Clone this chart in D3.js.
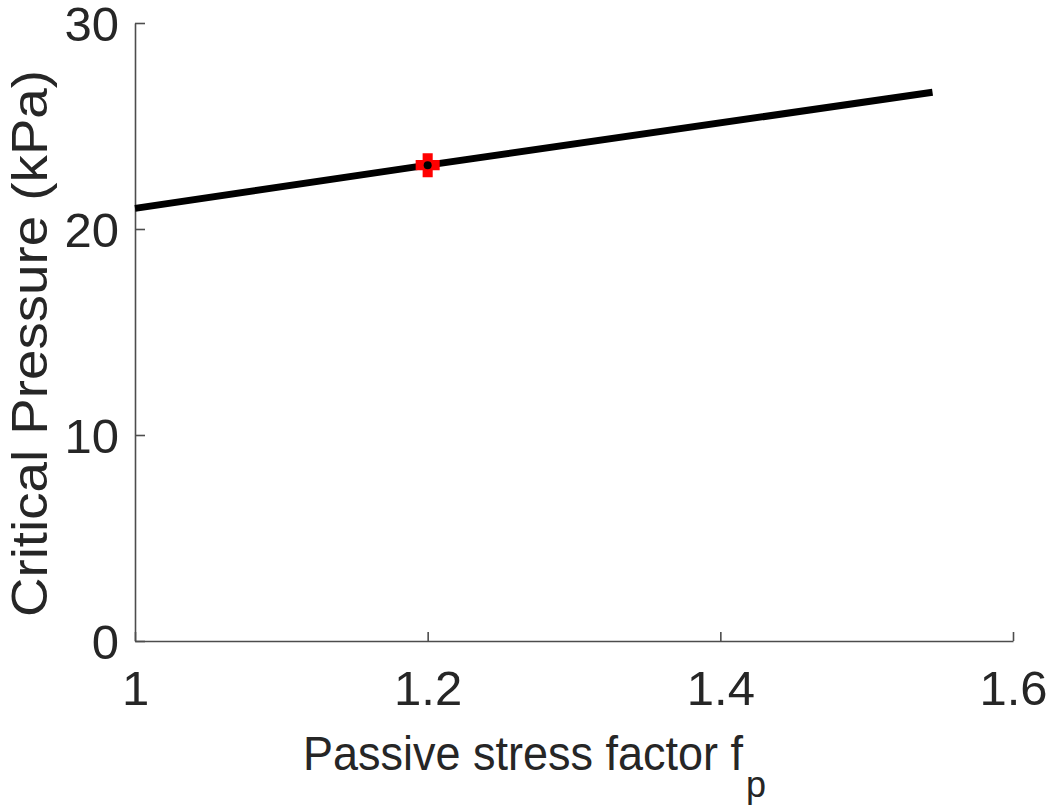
<!DOCTYPE html>
<html>
<head>
<meta charset="utf-8">
<script src="https://cdn.jsdelivr.net/npm/d3@7"></script>
<style>
  body { margin: 0; background: #fff; }
  text { font-family: "Liberation Sans", Arial, sans-serif; fill: #262626; }
</style>
</head>
<body>
<div id="chart"></div>
<script>
/* values */
let fpValues = [1.0, 1.2, 1.545];
let pressureValues = [21.0, 23.1, 26.64];
let markerFp = [1.2];
let markerPressure = [23.1];
let xTicks = [1, 1.2, 1.4, 1.6];
let yTicks = [0, 10, 20, 30];

/* dimensions */
let width = 1050;
let height = 809;
let margin = {top: 23, bottom: 168, right: 37, left: 135};
let pWidth = width - margin.left - margin.right;
let pHeight = height - margin.top - margin.bottom;

let svg = d3.select("#chart").append("svg")
            .attr("width", width)
            .attr("height", height);

let xScale = d3.scaleLinear().domain([1, 1.6]).range([0, pWidth]);
let yScale = d3.scaleLinear().domain([0, 30]).range([pHeight, 0]);

let g = svg.append("g")
           .attr("transform", `translate(${margin.left}, ${margin.top})`);

// axes, ticks pointing inward like matlab
let xAxis = g.append("g")
             .attr("transform", `translate(0, ${pHeight})`)
             .call(d3.axisBottom(xScale).tickValues(xTicks)
                     .tickSizeInner(-9).tickSizeOuter(0)
                     .tickFormat(d => d3.format("")(d)));

let yAxis = g.append("g")
             .call(d3.axisLeft(yScale).tickValues(yTicks)
                     .tickSizeInner(-10).tickSizeOuter(0));

[xAxis, yAxis].forEach(ax => {
  ax.select(".domain").attr("stroke", "#4d4d4d").attr("stroke-width", 1.6);
  ax.selectAll(".tick line").attr("stroke", "#4d4d4d").attr("stroke-width", 1.6);
  ax.selectAll(".tick text")
    .attr("font-size", 49)
    .attr("fill", "#262626")
    .style("font-family", '"Liberation Sans", Arial, sans-serif');
});

xAxis.selectAll(".tick text").attr("y", 0).attr("dy", 0)
     .attr("transform", "translate(0, 64)");
yAxis.selectAll(".tick text").attr("x", -16).attr("dy", "0.36em");

// the curve
let lineData = fpValues.map((d, i) => ({x: d, y: pressureValues[i]}));
let line = d3.line()
             .x(d => xScale(d.x))
             .y(d => yScale(d.y));

g.append("path")
  .attr("d", line(lineData))
  .attr("fill", "none")
  .attr("stroke", "#000")
  .attr("stroke-width", 7);

// marker: red rounded cross with black centre
let roundCross = {
  draw(context, size) {
    let r = Math.sqrt(size) / 2;
    let a = r * 0.42;
    context.moveTo(-a, -r);
    context.lineTo(a, -r);
    context.lineTo(a, -a);
    context.lineTo(r, -a);
    context.lineTo(r, a);
    context.lineTo(a, a);
    context.lineTo(a, r);
    context.lineTo(-a, r);
    context.lineTo(-a, a);
    context.lineTo(-r, a);
    context.lineTo(-r, -a);
    context.lineTo(-a, -a);
    context.closePath();
  }
};

let markerData = markerFp.map((d, i) => ({x: d, y: markerPressure[i]}));

g.selectAll(".marker")
  .data(markerData)
  .enter().append("path")
    .attr("class", "marker")
    .attr("transform", d => `translate(${xScale(d.x)}, ${yScale(d.y)})`)
    .attr("d", d3.symbol().type(roundCross).size(24 * 24))
    .attr("fill", "#ff0000");

g.selectAll(".marker-dot")
  .data(markerData)
  .enter().append("circle")
    .attr("class", "marker-dot")
    .attr("cx", d => xScale(d.x))
    .attr("cy", d => yScale(d.y))
    .attr("r", 4)
    .attr("fill", "#000");

// axis labels
let xLabel = svg.append("text")
   .attr("x", 303)
   .attr("y", 770)
   .attr("font-size", 49);
xLabel.append("tspan")
   .attr("textLength", 440)
   .attr("lengthAdjust", "spacingAndGlyphs")
   .text("Passive stress factor f");
xLabel.append("tspan")
   .attr("dx", 3)
   .attr("dy", 27)
   .attr("font-size", 36)
   .text("p");

svg.append("text")
   .attr("transform", "translate(47, 617) rotate(-90)")
   .attr("font-size", 50)
   .attr("textLength", 547)
   .attr("lengthAdjust", "spacingAndGlyphs")
   .text("Critical Pressure (kPa)");
</script>
</body>
</html>
